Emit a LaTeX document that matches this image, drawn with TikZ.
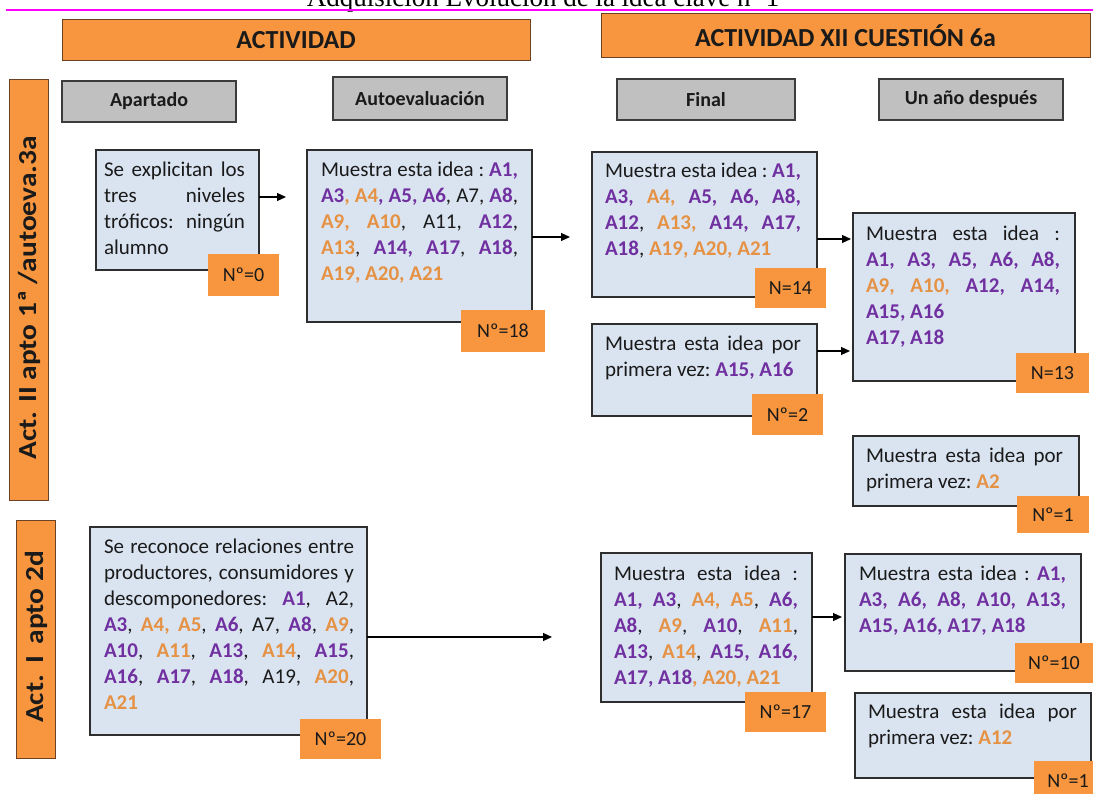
\documentclass[tikz,border=0pt]{standalone}
\usepackage{fontspec}
\setmainfont{Carlito}
\newfontfamily\serifhead{Liberation Serif}
\usetikzlibrary{arrows.meta}
\definecolor{ink}{HTML}{1A1A1A}
\definecolor{vio}{HTML}{7030A0}
\definecolor{nar}{HTML}{E59245}
\definecolor{bar}{HTML}{F7963E}
\definecolor{barline}{HTML}{6B4226}
\definecolor{boxblue}{HTML}{DAE4F1}
\definecolor{boxline}{HTML}{2E2E2E}
\definecolor{hdrgray}{HTML}{C0C0C0}
\definecolor{hdrline}{HTML}{3C3C3C}
\definecolor{rulecol}{HTML}{FF00FF}
\newcommand\pv[1]{\textcolor{vio}{\textbf{#1}}}
\newcommand\po[1]{\textcolor{nar}{\textbf{#1}}}
\newcommand\widebar[1]{\scalebox{1.13}[1]{#1}}
\hyphenpenalty=10000 \exhyphenpenalty=10000 \tolerance=10000 \hbadness=10000 \hfuzz=20pt
\begin{document}
\begin{tikzpicture}[x=1pt,y=-1pt,
  every node/.style={inner sep=0pt, outer sep=0pt},
  header/.style={draw=barline, line width=1pt, fill=bar, anchor=north west,
    text=ink, font=\bfseries\fontsize{26}{30}\selectfont},
  colhead/.style={draw=hdrline, line width=1.4pt, fill=hdrgray, anchor=north west,
    text=ink, font=\bfseries\fontsize{20}{24}\selectfont},
  vtxt/.style={rotate=90, text=ink, font=\bfseries\fontsize{26}{30}\selectfont},
  idea/.style={draw=boxline, line width=1.3pt, fill=boxblue, anchor=north west},
  ideatxt/.style={anchor=north west, align=justify, text=ink,
    font=\fontsize{21}{26}\selectfont},
  count/.style={fill=bar, anchor=north west, text=ink, font=\fontsize{20}{24}\selectfont},
  arr/.style={-{Triangle[length=9pt,width=8pt]}, line width=1.2pt, draw=black},
]
\useasboundingbox (0,0) rectangle (1093,794);
\clip (0,0) rectangle (1093,794);

% title and rule
\node[anchor=base, font=\serifhead\fontsize{27}{32}\selectfont, text=black] (title) at (543,7)
  {Adquisición Evolución de la idea clave nº 1};
\coordinate (ruleL) at (6,10.5);
\coordinate (ruleR) at (1093,10.5);
\draw[rulecol, line width=2pt] (ruleL) -- (ruleR);

% column headers
\node[header, minimum width=468, minimum height=41] (hAct) at (62,20) {ACTIVIDAD};
\node[header, minimum width=489, minimum height=44] (hXII) at (601,14) {ACTIVIDAD XII CUESTIÓN 6a};
\node[colhead, minimum width=174, minimum height=41] (hApart) at (62,81) {Apartado};
\node[colhead, minimum width=174, minimum height=43] (hAuto) at (333,77) {Autoevaluación};
\node[colhead, minimum width=178, minimum height=41] (hFinal) at (617,79) {Final};
\node[colhead, minimum width=184, minimum height=41] (hYear) at (879,79) {Un año después};

% row headers
\node[header, minimum width=39, minimum height=420] (vA) at (9,80) {};
\node[vtxt] (vAt) at (29,298) {\widebar{Act. II apto 1ª /autoeva.3a}};
\node[header, minimum width=39, minimum height=238] (vB) at (16,520) {};
\node[vtxt] (vBt) at (36,637) {\widebar{Act.\hspace{10pt}I\hspace{10pt}apto 2d}};

% first row
\node[idea, minimum width=163, minimum height=120] (b1) at (96,150) {};
\node[ideatxt, text width=141] (b1t) at (104,158)
  {\strut Se~explicitan~los\linebreak tres~niveles\linebreak tróficos:~ningún\linebreak alumno};
\node[count, minimum width=71, minimum height=42] (c0) at (208,254) {Nº=0};

\node[idea, minimum width=225, minimum height=172] (b2) at (307,150) {};
\node[ideatxt, text width=197] (b2t) at (321,158)
  {\strut Muestra~esta~idea~:~\pv{A1,}\linebreak
   \pv{A3}\po{,~A4}\pv{,~A5,~A6},~A7,~\pv{A8},\linebreak
   \po{A9,~A10},~A11,~\pv{A12},\linebreak
   \po{A13},~\pv{A14,~A17},~\pv{A18},\linebreak
   \po{A19,~A20,~A21}};
\node[count, minimum width=84, minimum height=42] (c18) at (461,310) {Nº=18};

\node[idea, minimum width=225, minimum height=145] (b3) at (592,152) {};
\node[ideatxt, text width=196] (b3t) at (605,159)
  {\strut Muestra~esta~idea~:~\pv{A1,}\linebreak
   \pv{A3,}~\po{A4,}~\pv{A5,~A6,~A8,}\linebreak
   \pv{A12},~\po{A13,}~\pv{A14,~A17,}\linebreak
   \pv{A18},~\po{A19,~A20,~A21}};
\node[count, minimum width=71, minimum height=40] (c14) at (755,268) {N=14};

\node[idea, minimum width=225, minimum height=92] (b5) at (592,324) {};
\node[ideatxt, text width=196] (b5t) at (605,332)
  {\strut Muestra~esta~idea~por\linebreak primera~vez:~\pv{A15,~A16}};
\node[count, minimum width=71, minimum height=41] (c2) at (752,394) {Nº=2};

\node[idea, minimum width=222, minimum height=168] (b4) at (853,213) {};
\node[ideatxt, text width=194] (b4t) at (866,222)
  {\strut Muestra~esta~idea~:\linebreak
   \pv{A1,~A3,~A5,~A6,~A8,}\linebreak
   \po{A9,~A10,}~\pv{A12,~A14,}\linebreak
   \pv{A15,~A16}\\
   \pv{A17,~A18}};
\node[count, minimum width=73, minimum height=40] (c13) at (1016,353) {N=13};

\node[idea, minimum width=226, minimum height=70] (b6) at (853,436) {};
\node[ideatxt, text width=197] (b6t) at (866,444)
  {\strut Muestra~esta~idea~por\linebreak primera~vez:~\po{A2}};
\node[count, minimum width=72, minimum height=37] (c1a) at (1017,496) {Nº=1};

% second row
\node[idea, minimum width=277, minimum height=208] (b7) at (90,527) {};
\node[ideatxt, text width=250] (b7t) at (104,535)
  {\strut Se~reconoce~relaciones~entre\linebreak
   productores,~consumidores~y\linebreak
   descomponedores:~\pv{A1},~A2,\linebreak
   \pv{A3},~\po{A4,~A5},~\pv{A6},~A7,~\pv{A8},~\po{A9},\linebreak
   \pv{A10},~\po{A11},~\pv{A13},~\po{A14},~\pv{A15},\linebreak
   \pv{A16},~\pv{A17},~\pv{A18},~A19,~\po{A20},\linebreak
   \po{A21}};
\node[count, minimum width=81, minimum height=40] (c20) at (300,719) {Nº=20};

\node[idea, minimum width=211, minimum height=149] (b8) at (601,553) {};
\node[ideatxt, text width=184] (b8t) at (614,562)
  {\strut Muestra~esta~idea~:\linebreak
   \pv{A1,~A3},~\po{A4,~A5},~\pv{A6,}\linebreak
   \pv{A8},~\po{A9},~\pv{A10},~\po{A11},\linebreak
   \pv{A13},~\po{A14},~\pv{A15,~A16,}\linebreak
   \pv{A17,~A18}\po{,~A20,~A21}};
\node[count, minimum width=81, minimum height=40] (c17) at (745,692) {Nº=17};

\node[idea, minimum width=236, minimum height=117] (b9) at (845,554) {};
\node[ideatxt, text width=207] (b9t) at (859,562)
  {\strut Muestra~esta~idea~:~\pv{A1,}\linebreak
   \pv{A3,~A6,~A8,~A10,~A13,}\linebreak
   \pv{A15,~A16,~A17,~A18}};
\node[count, minimum width=78, minimum height=40] (c10) at (1015,643) {Nº=10};

\node[idea, minimum width=236, minimum height=85] (b10) at (855,693) {};
\node[ideatxt, text width=209] (b10t) at (868,700)
  {\strut Muestra~esta~idea~por\linebreak primera~vez:~\po{A12}};
\node[count, minimum width=68, minimum height=40] (c1b) at (1034,761) {Nº=1};

% connectors
\draw[arr, shorten >=21pt] (b1.east |- 0,197) -- (b2.west |- 0,197);
\draw[arr, shorten >=22pt] (b2.east |- 0,237) -- (b3.west |- 0,237);
\draw[arr, shorten >=2pt] (b3.east |- 0,239) -- (b4.west |- 0,239);
\draw[arr, shorten >=3pt] (b5.east |- 0,351) -- (b4.west |- 0,351);
\draw[arr, shorten >=49pt] (b7.east |- 0,637) -- (b8.west |- 0,637);
\draw[arr, shorten >=3pt] (b8.east |- 0,617) -- (b9.west |- 0,617);
\end{tikzpicture}
\end{document}
